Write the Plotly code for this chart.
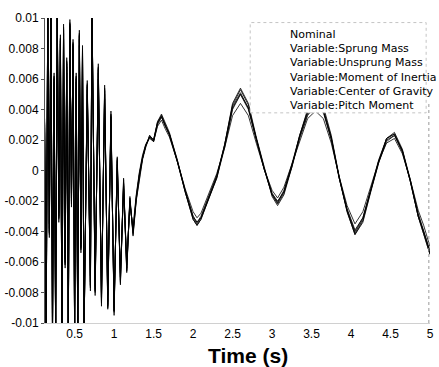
import plotly.graph_objects as go

# ---------------- data ----------------
time_early = [0.12, 0.14, 0.16, 0.18, 0.20, 0.22, 0.24, 0.26, 0.28, 0.30, 0.32, 0.34, 0.36,
              0.38, 0.40, 0.42, 0.44, 0.46, 0.48, 0.50, 0.52, 0.54, 0.56, 0.58, 0.60, 0.62,
              0.66, 0.70, 0.72, 0.76, 0.80, 0.84, 0.88, 0.92, 0.96, 1.00, 1.04, 1.08, 1.12,
              1.16, 1.20, 1.24, 1.28, 1.32]
time_late = [1.36, 1.40, 1.45, 1.50, 1.55, 1.60, 1.65, 1.70, 1.80, 1.90, 2.00, 2.05, 2.10, 2.20,
             2.30, 2.40, 2.50, 2.60, 2.70, 2.80, 2.90, 3.00, 3.07, 3.15, 3.25, 3.35, 3.45, 3.55,
             3.65, 3.75, 3.85, 3.95, 4.05, 4.15, 4.25, 4.35, 4.45, 4.55, 4.65, 4.75, 4.85, 4.92,
             5.00]

nominal_early = [0.0030, -0.0105, 0.0105, -0.0040, 0.0105, -0.0105, 0.0060, -0.0105, 0.0105, -0.0030,
                 0.0085, -0.0105, 0.0092, -0.0060, 0.0070, -0.0105, 0.0095, -0.0020, 0.0082, -0.0105,
                 0.0060, -0.0105, 0.0088, -0.0050, 0.0078, -0.0105,
                 0.0055, -0.0075, 0.0105, -0.0078, 0.0066, -0.0085, 0.0052, -0.0088, 0.0035, -0.0092,
                 0.0006, -0.0072, -0.0008, -0.0064, -0.0020, -0.0040, -0.0018, -0.0003]
nominal_late = [0.0008, 0.0016, 0.0022, 0.0019, 0.0031, 0.0036, 0.0029, 0.0024, 0.0006, -0.0014,
                -0.0031, -0.0035, -0.0031, -0.0017, -0.0004, 0.0016, 0.0041, 0.0050, 0.0040, 0.0020,
                0.0001, -0.0016, -0.0021, -0.0014, 0.0003, 0.0022, 0.0037, 0.0043, 0.0038, 0.0020,
                -0.0005, -0.0026, -0.0040, -0.0031, -0.0012, 0.0006, 0.0020, 0.0023, 0.0012, -0.0007,
                -0.0030, -0.0040, -0.0054]

sprung_mass_early = [0.0034, -0.0106, 0.0106, -0.0044, 0.0106, -0.0106, 0.0064, -0.0106, 0.0106, -0.0034,
                     0.0089, -0.0106, 0.0096, -0.0064, 0.0074, -0.0106, 0.0099, -0.0024, 0.0086, -0.0106,
                     0.0064, -0.0106, 0.0092, -0.0054, 0.0082, -0.0106,
                     0.0059, -0.0079, 0.0106, -0.0082, 0.0070, -0.0089, 0.0056, -0.0091, 0.0039, -0.0095,
                     0.0009, -0.0075, -0.0005, -0.0067, -0.0017, -0.0043, -0.0020, -0.0005]
sprung_mass_late = [0.0007, 0.0015, 0.0023, 0.0020, 0.0032, 0.0037, 0.0031, 0.0025, 0.0007, -0.0014,
                    -0.0032, -0.0036, -0.0032, -0.0018, -0.0005, 0.0017, 0.0044, 0.0054, 0.0044, 0.0022,
                    0.0002, -0.0017, -0.0023, -0.0016, 0.0002, 0.0023, 0.0040, 0.0047, 0.0042, 0.0023,
                    -0.0004, -0.0027, -0.0042, -0.0034, -0.0014, 0.0005, 0.0021, 0.0025, 0.0014, -0.0006,
                    -0.0030, -0.0041, -0.0055]

unsprung_mass_early = [0.0028, -0.0105, 0.0105, -0.0038, 0.0105, -0.0105, 0.0058, -0.0105, 0.0104, -0.0028,
                       0.0083, -0.0104, 0.0090, -0.0058, 0.0068, -0.0104, 0.0093, -0.0018, 0.0080, -0.0104,
                       0.0058, -0.0104, 0.0086, -0.0048, 0.0076, -0.0104,
                       0.0053, -0.0073, 0.0104, -0.0076, 0.0064, -0.0083, 0.0050, -0.0086, 0.0033, -0.0090,
                       0.0004, -0.0070, -0.0010, -0.0062, -0.0021, -0.0039, -0.0017, -0.0002]
unsprung_mass_late = [0.0009, 0.0017, 0.0022, 0.0020, 0.0031, 0.0035, 0.0029, 0.0023, 0.0006, -0.0013,
                      -0.0030, -0.0034, -0.0030, -0.0017, -0.0003, 0.0017, 0.0042, 0.0051, 0.0041, 0.0021,
                      0.0001, -0.0015, -0.0021, -0.0013, 0.0004, 0.0023, 0.0038, 0.0044, 0.0039, 0.0021,
                      -0.0005, -0.0026, -0.0041, -0.0032, -0.0012, 0.0007, 0.0021, 0.0024, 0.0013, -0.0007,
                      -0.0029, -0.0040, -0.0053]

moment_of_inertia_early = [0.0025, -0.0104, 0.0104, -0.0035, 0.0104, -0.0104, 0.0054, -0.0104, 0.0101, -0.0025,
                           0.0079, -0.0102, 0.0086, -0.0054, 0.0064, -0.0102, 0.0089, -0.0015, 0.0076, -0.0101,
                           0.0054, -0.0100, 0.0082, -0.0045, 0.0072, -0.0100,
                           0.0050, -0.0069, 0.0100, -0.0072, 0.0060, -0.0080, 0.0047, -0.0082, 0.0030, -0.0087,
                           0.0002, -0.0067, -0.0012, -0.0059, -0.0022, -0.0037, -0.0016, -0.0001]
moment_of_inertia_late = [0.0010, 0.0017, 0.0021, 0.0019, 0.0029, 0.0033, 0.0027, 0.0022, 0.0006, -0.0012,
                          -0.0027, -0.0031, -0.0028, -0.0015, -0.0002, 0.0015, 0.0036, 0.0044, 0.0036, 0.0018,
                          0.0001, -0.0013, -0.0018, -0.0011, 0.0004, 0.0020, 0.0034, 0.0039, 0.0034, 0.0018,
                          -0.0004, -0.0023, -0.0035, -0.0027, -0.0010, 0.0006, 0.0018, 0.0021, 0.0011, -0.0006,
                          -0.0026, -0.0036, -0.0050]

center_of_gravity_early = [0.0032, -0.0105, 0.0105, -0.0042, 0.0105, -0.0105, 0.0062, -0.0105, 0.0105, -0.0032,
                           0.0087, -0.0105, 0.0094, -0.0062, 0.0072, -0.0105, 0.0097, -0.0022, 0.0084, -0.0105,
                           0.0062, -0.0105, 0.0090, -0.0052, 0.0080, -0.0105,
                           0.0057, -0.0077, 0.0105, -0.0080, 0.0068, -0.0087, 0.0054, -0.0090, 0.0037, -0.0093,
                           0.0008, -0.0074, -0.0006, -0.0066, -0.0018, -0.0042, -0.0019, -0.0004]
center_of_gravity_late = [0.0008, 0.0016, 0.0023, 0.0020, 0.0032, 0.0036, 0.0030, 0.0024, 0.0006, -0.0014,
                          -0.0032, -0.0036, -0.0032, -0.0018, -0.0004, 0.0017, 0.0043, 0.0053, 0.0043, 0.0021,
                          0.0001, -0.0016, -0.0022, -0.0015, 0.0003, 0.0023, 0.0039, 0.0045, 0.0040, 0.0022,
                          -0.0005, -0.0027, -0.0042, -0.0033, -0.0013, 0.0006, 0.0021, 0.0024, 0.0013, -0.0007,
                          -0.0030, -0.0041, -0.0055]

pitch_moment_early = [0.0031, -0.0105, 0.0105, -0.0041, 0.0105, -0.0105, 0.0061, -0.0105, 0.0105, -0.0031,
                      0.0086, -0.0105, 0.0093, -0.0061, 0.0071, -0.0105, 0.0096, -0.0021, 0.0083, -0.0105,
                      0.0061, -0.0105, 0.0089, -0.0051, 0.0079, -0.0105,
                      0.0056, -0.0076, 0.0105, -0.0079, 0.0067, -0.0086, 0.0053, -0.0089, 0.0036, -0.0092,
                      0.0007, -0.0073, -0.0009, -0.0065, -0.0019, -0.0041, -0.0019, -0.0003]
pitch_moment_late = [0.0008, 0.0016, 0.0022, 0.0019, 0.0030, 0.0035, 0.0029, 0.0024, 0.0007, -0.0013,
                     -0.0030, -0.0034, -0.0031, -0.0018, -0.0005, 0.0015, 0.0040, 0.0050, 0.0041, 0.0021,
                     0.0002, -0.0015, -0.0020, -0.0014, 0.0002, 0.0021, 0.0036, 0.0043, 0.0039, 0.0021,
                     -0.0004, -0.0025, -0.0039, -0.0031, -0.0013, 0.0005, 0.0019, 0.0023, 0.0013, -0.0006,
                     -0.0028, -0.0039, -0.0053]

series_names = ["Nominal", "Variable:Sprung Mass", "Variable:Unsprung Mass",
                "Variable:Moment of Inertia", "Variable:Center of Gravity", "Variable:Pitch Moment"]
series_values = [nominal_early + nominal_late,
                 sprung_mass_early + sprung_mass_late,
                 unsprung_mass_early + unsprung_mass_late,
                 moment_of_inertia_early + moment_of_inertia_late,
                 center_of_gravity_early + center_of_gravity_late,
                 pitch_moment_early + pitch_moment_late]
time_s = time_early + time_late

x_tick_vals = [0.5, 1, 1.5, 2, 2.5, 3, 3.5, 4, 4.5, 5]
x_tick_text = ["0.5", "1", "1.5", "2", "2.5", "3", "3.5", "4", "4.5", "5"]
y_tick_vals = [0.01, 0.008, 0.006, 0.004, 0.002, 0, -0.002, -0.004, -0.006, -0.008, -0.01]
y_tick_text = ["0.01", "0.008", "0.006", "0.004", "0.002", "0", "-0.002", "-0.004", "-0.006", "-0.008", "-0.01"]

# ---------------- figure ----------------
fig = go.Figure()
for name, vals in zip(series_names, series_values):
    fig.add_trace(go.Scatter(x=time_s, y=vals, mode="lines", name=name,
                             line=dict(color="#000000", width=0.8)))

font_family = "Liberation Sans, Arial, sans-serif"
legend_font = "DejaVu Sans, Verdana, sans-serif"

# text-only legend box (the scanned original shows no line samples)
legend_top_px, legend_step_px, plot_top_px, plot_h_px = 34.0, 14.4, 18.0, 305.0
legend_annotations = []
for i, name in enumerate(series_names):
    ypx = legend_top_px + i * legend_step_px
    legend_annotations.append(dict(
        text=name, xref="paper", yref="paper", x=0.631,
        y=1 - (ypx - plot_top_px) / plot_h_px, xanchor="left", yanchor="middle",
        showarrow=False, font=dict(size=11, family=legend_font, color="#000000")))

fig.update_layout(
    width=439, height=367,
    margin=dict(l=44, r=5, t=18, b=44),
    paper_bgcolor="white", plot_bgcolor="white",
    font=dict(family=font_family, size=12, color="#000000"),
    showlegend=False,
    xaxis=dict(range=[0.125, 5.0], tickvals=x_tick_vals, ticktext=x_tick_text,
               showgrid=False, zeroline=False, showline=True, linecolor="#d0d0d0", linewidth=1,
               ticks="", tickfont=dict(size=12, family=font_family, color="#000000")),
    yaxis=dict(range=[-0.01, 0.01], tickvals=y_tick_vals, ticktext=y_tick_text,
               showgrid=False, zeroline=False, showline=True, linecolor="#555555", linewidth=1,
               ticks="outside", ticklen=3, tickcolor="#555555",
               tickfont=dict(size=12, family=font_family, color="#000000")),
    shapes=[
        dict(type="line", xref="paper", yref="paper", x0=0.997, x1=0.997, y0=0, y1=0.72,
             line=dict(color="#999999", width=1, dash="dot")),
        dict(type="rect", xref="paper", yref="paper", x0=0.533, x1=0.99, y0=0.689, y1=0.985,
             fillcolor="white", layer="above",
             line=dict(color="#c4c4c4", width=1, dash="dot")),
    ],
    annotations=legend_annotations + [
        dict(text="<b>Time (s)</b>", xref="paper", yref="paper", x=0.528, y=-0.105,
             xanchor="center", yanchor="middle", showarrow=False,
             font=dict(size=21, family=font_family, color="#000000"))],
)

fig.write_html("out.html")
